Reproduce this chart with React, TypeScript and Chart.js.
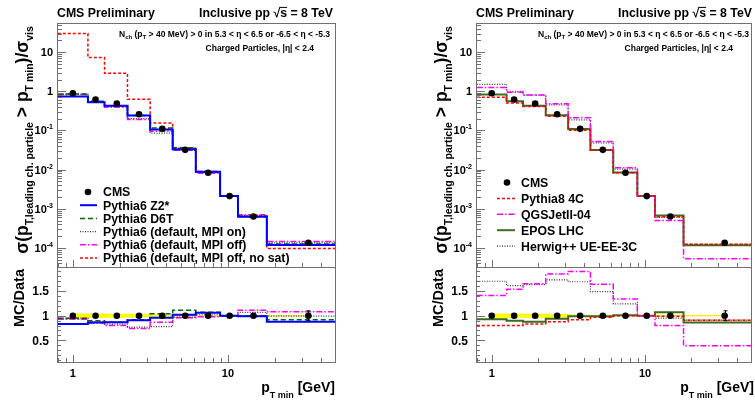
import React, { useEffect, useRef } from "react";
import { Chart, registerables } from "chart.js";

Chart.register(...registerables);

const W = 755;
const H = 401;
const FONT = "'Liberation Sans', Arial, Helvetica, sans-serif";
const FRAME_COLOR = "#707070";

// ---------------- data ----------------
const binEdges = [0.8, 1.25, 1.6, 2.25, 3.15, 4.4, 6.2, 8.9, 11.6, 17.8, 49];
const dataX = [1.0, 1.4, 1.92, 2.67, 3.77, 5.3, 7.45, 10.25, 14.6, 33];
const cmsMain = [0.89, 0.62, 0.49, 0.26, 0.11, 0.032, 0.0083, 0.0021, 0.00063, 0.000135];
const cmsRatio = [1, 1, 1, 1, 1, 1, 1, 1, 1, 1];
const cmsRatioLastErr = 0.1;
const bandErr = [0.035, 0.035, 0.03, 0.03, 0.012, 0.005, 0.004, 0.004, 0.004, 0.004];

// left panel (Pythia6 tunes)
const z2Main = [0.74, 0.53, 0.43, 0.24, 0.106, 0.033, 0.0088, 0.0021, 0.00062, 0.000119];
const z2Ratio = [0.83, 0.86, 0.87, 0.91, 0.96, 1.02, 1.06, 1.0, 0.99, 0.88];
const d6tMain = [0.85, 0.56, 0.43, 0.24, 0.115, 0.036, 0.0089, 0.0021, 0.00063, 0.000125];
const d6tRatio = [0.95, 0.9, 0.87, 0.92, 1.04, 1.11, 1.07, 1.0, 1.0, 0.92];
const mpiOnMain = [0.85, 0.55, 0.41, 0.2, 0.086, 0.031, 0.0085, 0.0021, 0.00067, 0.000134];
const mpiOnRatio = [0.95, 0.88, 0.83, 0.77, 0.78, 0.97, 1.02, 1.0, 1.07, 0.99];
const mpiOffMain = [0.83, 0.53, 0.39, 0.19, 0.096, 0.031, 0.0081, 0.0021, 0.0007, 0.000146];
const mpiOffRatio = [0.93, 0.85, 0.8, 0.74, 0.87, 0.96, 0.98, 1.0, 1.11, 1.08];
const noSatMain = [30, 7.3, 2.9, 0.63, 0.155, 0.035, 0.0086, 0.0021, 0.00064, 0.000096];

// right panel (other generators)
const py8Main = [0.71, 0.5, 0.41, 0.23, 0.101, 0.031, 0.0083, 0.0021, 0.00062, 0.000123];
const py8Ratio = [0.8, 0.8, 0.83, 0.88, 0.92, 0.97, 1.0, 1.0, 0.99, 0.91];
const qgsMain = [1.25, 0.95, 0.81, 0.48, 0.21, 0.052, 0.0111, 0.0021, 0.0005, 0.0000527];
const qgsRatio = [1.41, 1.54, 1.65, 1.85, 1.9, 1.64, 1.34, 1.0, 0.8, 0.39];
const eposMain = [0.83, 0.56, 0.43, 0.245, 0.109, 0.0317, 0.0084, 0.0021, 0.00067, 0.000116];
const eposRatio = [0.93, 0.9, 0.88, 0.94, 0.99, 0.99, 1.01, 1.0, 1.07, 0.86];
const herwigMain = [1.51, 1.0, 0.8, 0.45, 0.186, 0.048, 0.0103, 0.0021, 0.0006, 0.000123];
const herwigRatio = [1.7, 1.61, 1.63, 1.73, 1.69, 1.49, 1.24, 1.0, 0.95, 0.91];

// tick labels
const xTickLabels = [1, 10];
const mainYExponents = [1, 0, -1, -2, -3, -4];
const ratioYLabels = [0.5, 1, 1.5];

// axis ranges
const X_MIN = 0.79;
const X_MAX = 49;
const MAIN_Y_MIN = 3.24e-5;
const MAIN_Y_MAX = 55.8;
const RATIO_Y_MIN = 0.06;
const RATIO_Y_MAX = 1.99;

// ---------------- styles / layout ----------------
const leftSeries = [
  { label: "Pythia6 Z2*", main: z2Main, ratio: z2Ratio, color: "#0000ff", width: 2, dash: [] },
  { label: "Pythia6 D6T", main: d6tMain, ratio: d6tRatio, color: "#006600", width: 1.5, dash: [5, 3] },
  { label: "Pythia6 (default, MPI on)", main: mpiOnMain, ratio: mpiOnRatio, color: "#333333", width: 1.2, dash: [1, 1.5] },
  { label: "Pythia6 (default, MPI off)", main: mpiOffMain, ratio: mpiOffRatio, color: "#ff00ff", width: 1.5, dash: [6, 2, 1.5, 2] },
  { label: "Pythia6 (default, MPI off, no sat)", main: noSatMain, ratio: null, color: "#ff0000", width: 1.5, dash: [3, 2] },
];

const rightSeries = [
  { label: "Pythia8 4C", main: py8Main, ratio: py8Ratio, color: "#ff0000", width: 1.5, dash: [3, 2] },
  { label: "QGSJetII-04", main: qgsMain, ratio: qgsRatio, color: "#ff00ff", width: 1.5, dash: [6, 2, 1.5, 2] },
  { label: "EPOS LHC", main: eposMain, ratio: eposRatio, color: "#3d6b1f", width: 2, dash: [] },
  { label: "Herwig++ UE-EE-3C", main: herwigMain, ratio: herwigRatio, color: "#333333", width: 1.2, dash: [1, 1.5] },
];

const leftFrame = { l: 57, r: 335, t: 23, m: 267, b: 362 };
const rightFrame = { l: 476, r: 754, t: 23, m: 267, b: 362 };

const leftLegend = { symL: 80, symR: 97, mark: 88, textX: 103, y0: 192, step: 13.2 };
const rightLegend = { symL: 497, symR: 515, mark: 507, textX: 521, y0: 182.5, step: 15.9 };

// ---------------- helpers ----------------
type Seg = { t: string; s: number; dy?: number; over?: boolean };

function setFont(ctx: CanvasRenderingContext2D, s: number) {
  ctx.font = `bold ${s}px ${FONT}`;
}

function drawRich(ctx: CanvasRenderingContext2D, segs: Seg[], x: number, y: number, align: string, rot = 0) {
  ctx.save();
  ctx.translate(x, y);
  if (rot) ctx.rotate(rot);
  let total = 0;
  for (const g of segs) {
    setFont(ctx, g.s);
    total += ctx.measureText(g.t).width;
  }
  let cx = align === "left" ? 0 : align === "right" ? -total : -total / 2;
  ctx.textAlign = "left";
  ctx.textBaseline = "alphabetic";
  ctx.fillStyle = "#000";
  for (const g of segs) {
    setFont(ctx, g.s);
    const w = ctx.measureText(g.t).width;
    ctx.fillText(g.t, cx, g.dy || 0);
    if (g.over) {
      ctx.strokeStyle = "#000";
      ctx.lineWidth = 1;
      const oy = (g.dy || 0) - g.s * 0.78;
      ctx.beginPath();
      ctx.moveTo(cx - 1, oy);
      ctx.lineTo(cx + w, oy);
      ctx.stroke();
    }
    cx += w;
  }
  ctx.restore();
}

function seg(ctx: CanvasRenderingContext2D, x1: number, y1: number, x2: number, y2: number) {
  ctx.beginPath();
  ctx.moveTo(x1, y1);
  ctx.lineTo(x2, y2);
  ctx.stroke();
}

function hist(vals: number[]) {
  return binEdges.map((e, i) => ({ x: e, y: vals[Math.min(i, vals.length - 1)] }));
}

function drawFrameAndXTicks(ctx: CanvasRenderingContext2D, chart: any) {
  const ca = chart.chartArea;
  const xs = chart.scales.x;
  ctx.strokeStyle = FRAME_COLOR;
  ctx.lineWidth = 1;
  ctx.setLineDash([]);
  ctx.strokeRect(Math.round(ca.left) + 0.5, Math.round(ca.top) + 0.5, Math.round(ca.right - ca.left), Math.round(ca.bottom - ca.top));
  for (let e = -1; e <= 1; e++) {
    for (let k = 1; k < 10; k++) {
      const v = k * Math.pow(10, e);
      if (v <= xs.min || v >= xs.max) continue;
      const px = Math.round(xs.getPixelForValue(v)) + 0.5;
      const len = k === 1 ? 7 : 4;
      seg(ctx, px, ca.bottom, px, ca.bottom - len);
    }
  }
}

function drawLegend(ctx: CanvasRenderingContext2D, series: any[], g: any) {
  ctx.fillStyle = "#000";
  ctx.beginPath();
  ctx.arc(g.mark, g.y0, 3.3, 0, Math.PI * 2);
  ctx.fill();
  drawRich(ctx, [{ t: "CMS", s: 12.3 }], g.textX, g.y0 + 4.4, "left");
  series.forEach((s, i) => {
    const y = g.y0 + (i + 1) * g.step;
    ctx.save();
    ctx.strokeStyle = s.color;
    ctx.lineWidth = s.width;
    ctx.setLineDash(s.dash);
    seg(ctx, g.symL, y, g.symR, y);
    ctx.restore();
    drawRich(ctx, [{ t: s.label, s: 12.3 }], g.textX, y + 4.4, "left");
  });
}

function mainDecor(frame: any, series: any[], lg: any) {
  return {
    id: "mainDecor",
    afterDraw(chart: any) {
      const ctx = chart.ctx;
      const ca = chart.chartArea;
      const ys = chart.scales.y;
      ctx.save();
      drawFrameAndXTicks(ctx, chart);
      for (let e = -6; e <= 2; e++) {
        for (let k = 1; k < 10; k++) {
          const v = k * Math.pow(10, e);
          if (v <= ys.min || v >= ys.max) continue;
          const py = Math.round(ys.getPixelForValue(v)) + 0.5;
          const len = k === 1 ? 9 : 5;
          seg(ctx, ca.left, py, ca.left + len, py);
        }
      }
      mainYExponents.forEach((e) => {
        const py = ys.getPixelForValue(Math.pow(10, e));
        const segs: Seg[] =
          e === 1 ? [{ t: "10", s: 11 }] : e === 0 ? [{ t: "1", s: 11 }] : [{ t: "10", s: 11 }, { t: "-" + -e, s: 7, dy: -5 }];
        drawRich(ctx, segs, ca.left - 4, py + 4, "right");
      });
      drawRich(ctx, [{ t: "CMS Preliminary", s: 12.3 }], frame.l, 17, "left");
      drawRich(
        ctx,
        [
          { t: "Inclusive pp ", s: 12.3 },
          { t: "√", s: 12.3 },
          { t: "s", s: 12.3, over: true },
          { t: " = 8 TeV", s: 12.3 },
        ],
        frame.r - 2,
        17,
        "right"
      );
      drawRich(
        ctx,
        [
          { t: "N", s: 8.5 },
          { t: "ch", s: 6, dy: 2 },
          { t: " (p", s: 8.5 },
          { t: "T", s: 6, dy: 2 },
          { t: " > 40 MeV) > 0 in 5.3 < η < 6.5 or -6.5 < η < -5.3", s: 8.5 },
        ],
        frame.r - 5,
        36.5,
        "right"
      );
      drawRich(ctx, [{ t: "Charged Particles, |η| < 2.4", s: 8.5 }], frame.r - 21, 50.5, "right");
      drawRich(
        ctx,
        [
          { t: "σ(p", s: 17.5 },
          { t: "T,leading ch. particle", s: 10.5, dy: 4.5 },
          { t: " > p", s: 17.5 },
          { t: "T min", s: 10.5, dy: 4.5 },
          { t: ")/σ", s: 17.5 },
          { t: "vis", s: 10.5, dy: 4.5 },
        ],
        frame.l - 29,
        140,
        "center",
        -Math.PI / 2
      );
      drawLegend(ctx, series, lg);
      ctx.restore();
    },
  };
}

function ratioDecor(frame: any) {
  return {
    id: "ratioDecor",
    afterDraw(chart: any) {
      const ctx = chart.ctx;
      const ca = chart.chartArea;
      const xs = chart.scales.x;
      const ys = chart.scales.y;
      ctx.save();
      drawFrameAndXTicks(ctx, chart);
      for (let i = 1; i <= 19; i++) {
        const v = i / 10;
        if (v <= ys.min || v >= ys.max) continue;
        const py = Math.round(ys.getPixelForValue(v)) + 0.5;
        const len = i % 5 === 0 ? 9 : 4;
        seg(ctx, ca.left, py, ca.left + len, py);
      }
      ratioYLabels.forEach((v) => {
        drawRich(ctx, [{ t: String(v), s: 12 }], ca.left - 8, ys.getPixelForValue(v) + 4.3, "right");
      });
      xTickLabels.forEach((v) => {
        drawRich(ctx, [{ t: String(v), s: 11 }], xs.getPixelForValue(v), 377, "center");
      });
      const last = dataX.length - 1;
      const px = Math.round(xs.getPixelForValue(dataX[last])) + 0.5;
      const yTop = ys.getPixelForValue(cmsRatio[last] + cmsRatioLastErr);
      const yBot = ys.getPixelForValue(cmsRatio[last] - cmsRatioLastErr);
      ctx.strokeStyle = "#000";
      ctx.lineWidth = 1;
      seg(ctx, px, yTop, px, yBot);
      seg(ctx, px - 2, yTop, px + 2, yTop);
      seg(ctx, px - 2, yBot, px + 2, yBot);
      drawRich(ctx, [{ t: "MC/Data", s: 14.5 }], frame.l - 33, 298, "center", -Math.PI / 2);
      drawRich(
        ctx,
        [
          { t: "p", s: 14 },
          { t: "T min", s: 9, dy: 6 },
          { t: " [GeV]", s: 14 },
        ],
        frame.r,
        392,
        "right"
      );
      ctx.restore();
    },
  };
}

function baseOptions(frame: any, top: number, bottom: number, yType: string, yMin: number, yMax: number) {
  return {
    responsive: false,
    animation: false,
    events: [],
    layout: { padding: { left: frame.l, right: W - frame.r, top, bottom: H - bottom } },
    scales: {
      x: { type: "logarithmic", min: X_MIN, max: X_MAX, bounds: "data", display: false },
      y: { type: yType, min: yMin, max: yMax, bounds: "data", display: false },
    },
    plugins: { legend: { display: false }, tooltip: { enabled: false } },
  };
}

function mainConfig(frame: any, series: any[], lg: any) {
  const datasets: any[] = [
    {
      data: dataX.map((x, i) => ({ x, y: cmsMain[i] })),
      showLine: false,
      pointRadius: 3.3,
      pointBackgroundColor: "#000",
      pointBorderColor: "#000",
      pointBorderWidth: 0,
      order: 0,
    },
    ...series.map((s, i) => ({
      data: hist(s.main),
      borderColor: s.color,
      borderWidth: s.width,
      borderDash: s.dash,
      stepped: true,
      pointRadius: 0,
      fill: false,
      order: i + 1,
    })),
  ];
  return {
    type: "line",
    data: { datasets },
    options: baseOptions(frame, frame.t, frame.m, "logarithmic", MAIN_Y_MIN, MAIN_Y_MAX),
    plugins: [mainDecor(frame, series, lg)],
  };
}

function ratioConfig(frame: any, series: any[]) {
  const datasets: any[] = [
    {
      data: dataX.map((x, i) => ({ x, y: cmsRatio[i] })),
      showLine: false,
      pointRadius: 3.3,
      pointBackgroundColor: "#000",
      pointBorderColor: "#000",
      pointBorderWidth: 0,
      order: 0,
    },
    ...series
      .filter((s) => s.ratio)
      .map((s, i) => ({
        data: hist(s.ratio),
        borderColor: s.color,
        borderWidth: s.width,
        borderDash: s.dash,
        stepped: true,
        pointRadius: 0,
        fill: false,
        order: i + 1,
      })),
    {
      data: dataX.map((x, i) => ({ x, y: cmsRatio[i] + bandErr[i] })),
      borderColor: "#f2ee00",
      borderWidth: 0.8,
      backgroundColor: "#ffff00",
      pointRadius: 0,
      fill: "+1",
      order: 50,
    },
    {
      data: dataX.map((x, i) => ({ x, y: cmsRatio[i] - bandErr[i] })),
      borderColor: "#f2ee00",
      borderWidth: 0.8,
      pointRadius: 0,
      fill: false,
      order: 51,
    },
  ];
  return {
    type: "line",
    data: { datasets },
    options: baseOptions(frame, frame.m, frame.b, "linear", RATIO_Y_MIN, RATIO_Y_MAX),
    plugins: [ratioDecor(frame)],
  };
}

export default function App() {
  const r1 = useRef<HTMLCanvasElement | null>(null);
  const r2 = useRef<HTMLCanvasElement | null>(null);
  const r3 = useRef<HTMLCanvasElement | null>(null);
  const r4 = useRef<HTMLCanvasElement | null>(null);

  useEffect(() => {
    const charts = [
      new Chart(r1.current as any, mainConfig(leftFrame, leftSeries, leftLegend) as any),
      new Chart(r2.current as any, ratioConfig(leftFrame, leftSeries) as any),
      new Chart(r3.current as any, mainConfig(rightFrame, rightSeries, rightLegend) as any),
      new Chart(r4.current as any, ratioConfig(rightFrame, rightSeries) as any),
    ];
    return () => charts.forEach((c) => c.destroy());
  }, []);

  const cs: any = { position: "absolute", left: 0, top: 0, width: W, height: H };
  return (
    <div style={{ position: "fixed", left: 0, top: 0, width: W, height: H, background: "#fff" }}>
      <canvas ref={r1} width={W} height={H} style={cs} />
      <canvas ref={r2} width={W} height={H} style={cs} />
      <canvas ref={r3} width={W} height={H} style={cs} />
      <canvas ref={r4} width={W} height={H} style={cs} />
    </div>
  );
}
